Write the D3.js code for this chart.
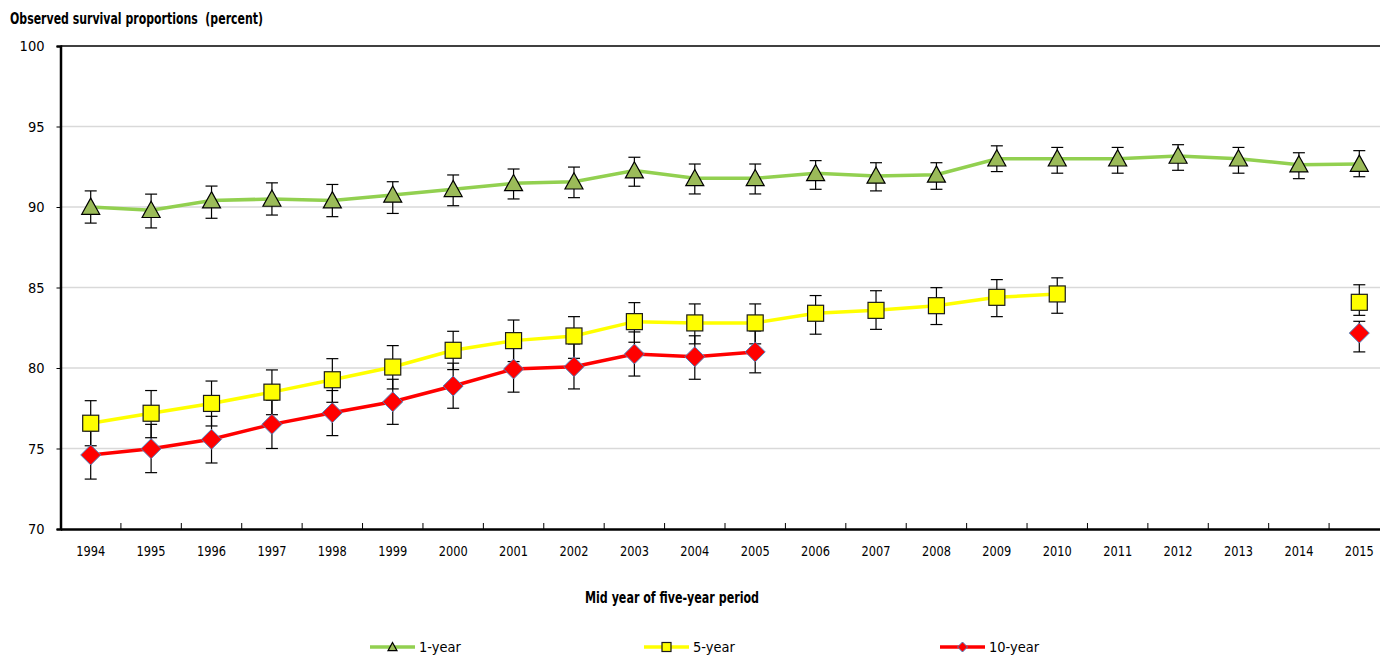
<!DOCTYPE html>
<html>
<head>
<meta charset="utf-8">
<script src="https://cdn.jsdelivr.net/npm/d3@7/dist/d3.min.js"></script>
<style>
  body { margin: 0; background: #fff; }
  svg text { font-family: "Liberation Sans Narrow", "DejaVu Sans", sans-serif; font-stretch: condensed; fill: #000; }
</style>
</head>
<body>
<div id="chart"></div>
<script>
// categories
var years = ["1994", "1995", "1996", "1997", "1998", "1999", "2000", "2001", "2002", "2003", "2004",
  "2005", "2006", "2007", "2008", "2009", "2010", "2011", "2012", "2013", "2014", "2015"];

// 1-year survival + error bounds
var oneYear = [90.0, 89.8, 90.4, 90.5, 90.4, 90.75, 91.1, 91.47, 91.57, 92.26, 91.78,
  91.78, 92.09, 91.93, 92.0, 93.0, 93.0, 93.0, 93.17, 93.0, 92.63, 92.67];
var oneYearLo = [89.0, 88.7, 89.3, 89.5, 89.4, 89.6, 90.08, 90.5, 90.58, 91.29, 90.81,
  90.81, 91.1, 91.0, 91.1, 92.2, 92.1, 92.1, 92.28, 92.1, 91.76, 91.88];
var oneYearHi = [91.0, 90.8, 91.3, 91.5, 91.4, 91.57, 91.99, 92.36, 92.48, 93.09, 92.67,
  92.67, 92.88, 92.75, 92.75, 93.8, 93.7, 93.7, 93.87, 93.7, 93.37, 93.5];

// 5-year survival + error bounds (null = no estimate)
var fiveYear = [76.57, 77.19, 77.8, 78.5, 79.27, 80.06, 81.1, 81.7, 81.99, 82.88, 82.8,
  82.8, 83.4, 83.58, 83.87, 84.39, 84.6, null, null, null, null, 84.08];
var fiveYearLo = [75.17, 75.67, 76.4, 77.1, 77.87, 78.7, 79.9, 80.4, 80.6, 81.6, 81.5,
  81.5, 82.1, 82.4, 82.7, 83.19, 83.4, null, null, null, null, 83.27];
var fiveYearHi = [77.97, 78.6, 79.19, 79.88, 80.58, 81.39, 82.28, 82.98, 83.19, 84.06, 83.98,
  83.98, 84.5, 84.8, 84.99, 85.49, 85.6, null, null, null, null, 85.17];

// 10-year survival + error bounds
var tenYear = [74.6, 74.99, 75.57, 76.5, 77.22, 77.9, 78.88, 79.94, 80.08, 80.87, 80.7,
  81.0, null, null, null, null, null, null, null, null, null, 82.17];
var tenYearLo = [73.1, 73.5, 74.1, 75.0, 75.8, 76.5, 77.5, 78.5, 78.7, 79.5, 79.3,
  79.7, null, null, null, null, null, null, null, null, null, 81.0];
var tenYearHi = [76.1, 76.5, 77.0, 78.0, 78.6, 79.3, 80.3, 81.3, 81.5, 82.24, 82.0,
  82.3, null, null, null, null, null, null, null, null, null, 82.9];

var yTicks = [70, 75, 80, 85, 90, 95, 100];

var width = 1380, height = 656;
var plotLeft = 60.5, plotTop = 46, plotBottom = 529, plotRight = 1389.5;

var svg = d3.select("#chart").append("svg")
  .attr("width", width)
  .attr("height", height);

var x = d3.scaleBand().domain(years).range([plotLeft, plotRight]);
var y = d3.scaleLinear().domain([70, 100]).range([plotBottom, plotTop]);
var cx = function(i) { return x(years[i]) + x.bandwidth() / 2; };

// title
svg.append("text")
  .attr("x", 10).attr("y", 24)
  .attr("textLength", 253).attr("lengthAdjust", "spacingAndGlyphs")
  .style("font-size", "15.5px").style("font-weight", "bold")
  .style("white-space", "pre")
  .text("Observed survival proportions  (percent)");

// gridlines
svg.append("g").selectAll("line")
  .data(yTicks.filter(function(d) { return d > 70 && d < 100; }))
  .enter().append("line")
  .attr("x1", plotLeft).attr("x2", plotRight)
  .attr("y1", function(d) { return y(d); })
  .attr("y2", function(d) { return y(d); })
  .attr("stroke", "#d9d9d9").attr("stroke-width", 1.5);

// top border
svg.append("line")
  .attr("x1", plotLeft).attr("x2", plotRight).attr("y1", plotTop).attr("y2", plotTop)
  .attr("stroke", "#000").attr("stroke-width", 1.5);

// y axis
var yAxis = svg.append("g")
  .attr("transform", "translate(" + plotLeft + ",0)")
  .call(d3.axisLeft(y).tickValues(yTicks).tickSize(4).tickPadding(12));
yAxis.select(".domain").attr("stroke-width", 2.5);
yAxis.selectAll("text").style("font-size", "14.5px");

// x axis
var xAxis = svg.append("g")
  .attr("transform", "translate(0," + plotBottom + ")")
  .call(d3.axisBottom(x).tickSize(0).tickPadding(17));
xAxis.select(".domain").attr("stroke-width", 2.5);
xAxis.selectAll("text").style("font-size", "14.5px")
  .attr("textLength", 29).attr("lengthAdjust", "spacingAndGlyphs");
// boundary ticks pointing up
xAxis.selectAll(".bound").data(years.slice(1)).enter().append("line")
  .attr("x1", function(d) { return x(d); }).attr("x2", function(d) { return x(d); })
  .attr("y1", 0).attr("y2", -6)
  .attr("stroke", "#000").attr("stroke-width", 1);

svg.append("text")
  .attr("x", 585).attr("y", 603)
  .attr("textLength", 174).attr("lengthAdjust", "spacingAndGlyphs")
  .style("font-size", "15px").style("font-weight", "bold")
  .text("Mid year of five-year period");

var series = [
  { name: "1-year", v: oneYear, lo: oneYearLo, hi: oneYearHi, line: "#92d050", fill: "#9bbb59", stroke: "#000", shape: "tri", lx: 370 },
  { name: "5-year", v: fiveYear, lo: fiveYearLo, hi: fiveYearHi, line: "#ffff00", fill: "#ffff00", stroke: "#1a1a1a", shape: "sq", lx: 644 },
  { name: "10-year", v: tenYear, lo: tenYearLo, hi: tenYearHi, line: "#ff0000", fill: "#ff0000", stroke: "#4f81bd", shape: "dia", lx: 940 }
];

function marker(g, s, px, py, sz) {
  if (s.shape == "tri") {
    var h = sz * 0.9;
    g.append("path")
      .attr("d", "M" + px + "," + (py - h * 0.55) + "L" + (px + sz / 2) + "," + (py + h * 0.45) + "L" + (px - sz / 2) + "," + (py + h * 0.45) + "Z")
      .attr("fill", s.fill).attr("stroke", s.stroke).attr("stroke-width", 1.2);
  } else if (s.shape == "sq") {
    g.append("rect")
      .attr("x", px - sz / 2).attr("y", py - sz / 2).attr("width", sz).attr("height", sz)
      .attr("fill", s.fill).attr("stroke", s.stroke).attr("stroke-width", 1.2);
  } else {
    g.append("path")
      .attr("d", "M" + px + "," + (py - sz / 2) + "L" + (px + sz / 2) + "," + py + "L" + px + "," + (py + sz / 2) + "L" + (px - sz / 2) + "," + py + "Z")
      .attr("fill", s.fill).attr("stroke", s.stroke).attr("stroke-width", 1);
  }
}

var line = d3.line()
  .defined(function(d) { return d != null; })
  .x(function(d, i) { return cx(i); })
  .y(function(d) { return y(d); });

// lines
series.forEach(function(s) {
  svg.append("path")
    .datum(s.v)
    .attr("d", line)
    .attr("fill", "none")
    .attr("stroke", s.line)
    .attr("stroke-width", 3.5);
});

// error bars
series.forEach(function(s) {
  var g = svg.append("g").attr("stroke", "#000").attr("stroke-width", 1.2);
  s.v.forEach(function(d, i) {
    if (d == null) return;
    var px = cx(i);
    g.append("line").attr("x1", px).attr("x2", px).attr("y1", y(s.lo[i])).attr("y2", y(s.hi[i]));
    g.append("line").attr("x1", px - 6).attr("x2", px + 6).attr("y1", y(s.lo[i])).attr("y2", y(s.lo[i]));
    g.append("line").attr("x1", px - 6).attr("x2", px + 6).attr("y1", y(s.hi[i])).attr("y2", y(s.hi[i]));
  });
});

// markers
series.forEach(function(s) {
  var g = svg.append("g");
  s.v.forEach(function(d, i) {
    if (d == null) return;
    marker(g, s, cx(i), y(d), s.shape == "dia" ? 20 : (s.shape == "sq" ? 16 : 18));
  });
});

// legend
var legY = 647;
series.forEach(function(s) {
  var g = svg.append("g");
  g.append("line")
    .attr("x1", s.lx).attr("x2", s.lx + 45).attr("y1", legY).attr("y2", legY)
    .attr("stroke", s.line).attr("stroke-width", 3.5);
  marker(g, s, s.lx + 22.5, legY, s.shape == "dia" ? 10 : 9);
  g.append("text")
    .attr("x", s.lx + 49).attr("y", legY + 5)
    .style("font-size", "14.5px")
    .text(s.name);
});
</script>
</body>
</html>
